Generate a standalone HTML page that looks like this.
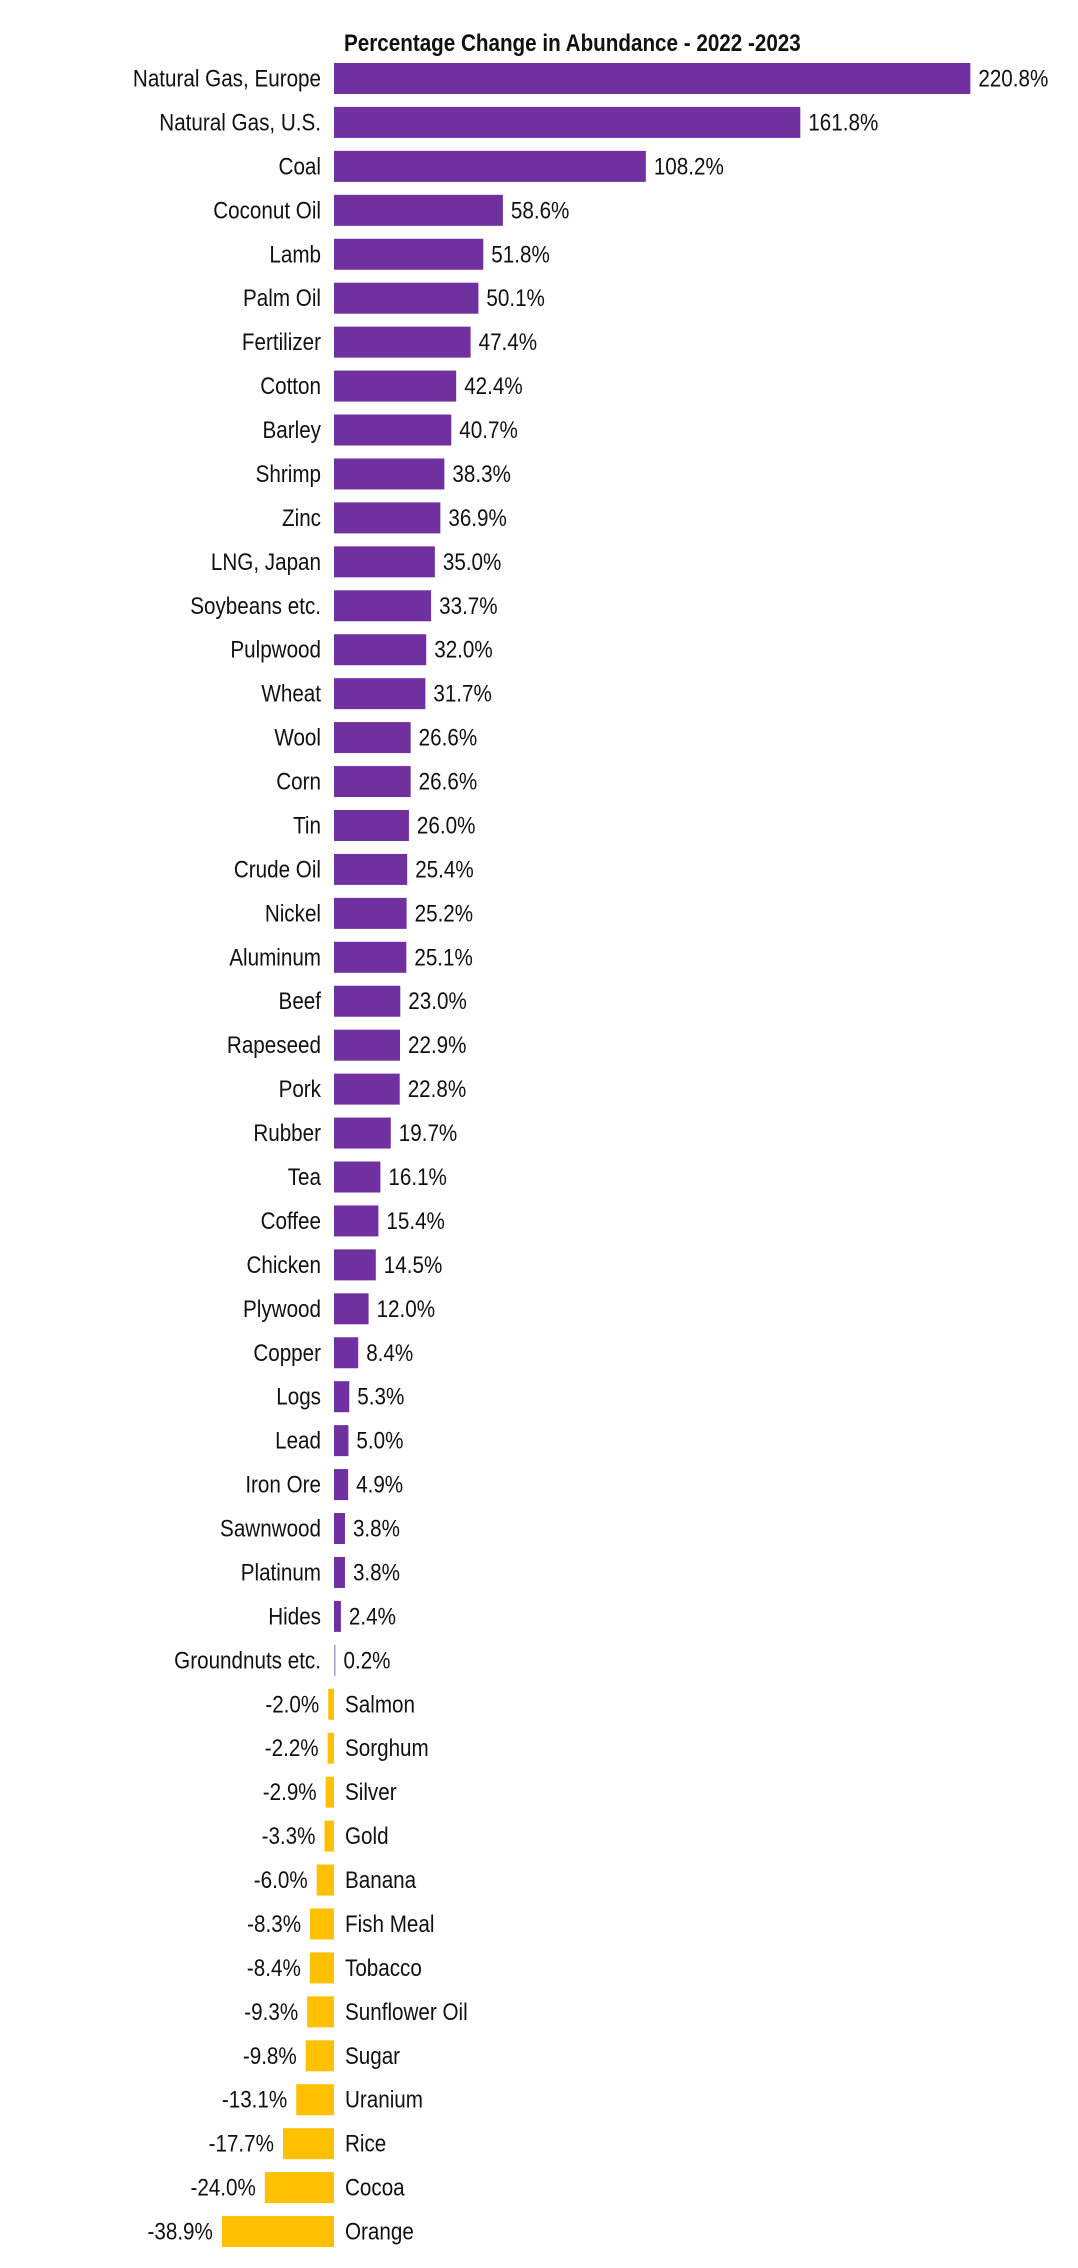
<!DOCTYPE html>
<html><head><meta charset="utf-8">
<style>
html,body{margin:0;padding:0;background:#fff;}
svg{display:block;}
text{font-family:"Liberation Sans Narrow","Liberation Sans",sans-serif;fill:#111;}
</style></head>
<body>
<svg id="chart" width="1078" height="2268" viewBox="0 0 1078 2268" xmlns="http://www.w3.org/2000/svg">
<text transform="translate(344,51) scale(0.86,1)" x="0" y="0" font-size="24" font-weight="bold">Percentage Change in Abundance - 2022 -2023</text>
<g id="bars"></g>
</svg>
<script>
const categories = ["Natural Gas, Europe","Natural Gas, U.S.","Coal","Coconut Oil","Lamb","Palm Oil","Fertilizer","Cotton","Barley","Shrimp","Zinc","LNG, Japan","Soybeans etc.","Pulpwood","Wheat","Wool","Corn","Tin","Crude Oil","Nickel","Aluminum","Beef","Rapeseed","Pork","Rubber","Tea","Coffee","Chicken","Plywood","Copper","Logs","Lead","Iron Ore","Sawnwood","Platinum","Hides","Groundnuts etc.","Salmon","Sorghum","Silver","Gold","Banana","Fish Meal","Tobacco","Sunflower Oil","Sugar","Uranium","Rice","Cocoa","Orange"];
const values = [220.8,161.8,108.2,58.6,51.8,50.1,47.4,42.4,40.7,38.3,36.9,35.0,33.7,32.0,31.7,26.6,26.6,26.0,25.4,25.2,25.1,23.0,22.9,22.8,19.7,16.1,15.4,14.5,12.0,8.4,5.3,5.0,4.9,3.8,3.8,2.4,0.2,-2.0,-2.2,-2.9,-3.3,-6.0,-8.3,-8.4,-9.3,-9.8,-13.1,-17.7,-24.0,-38.9];

const x0 = 334, pxPerUnit = 2.882;
const xScale = v => x0 + v * pxPerUnit;
const yTop = 63, pitch = 43.94, barH = 31;
const yScale = i => yTop + i * pitch;
const g = document.getElementById('bars');
const NS = 'http://www.w3.org/2000/svg';
const SX = 0.86;
categories.forEach((c, i) => {
  const v = values[i];
  const y = yScale(i);
  const xa = xScale(0), xb = xScale(v);
  const r = document.createElementNS(NS, 'rect');
  
  
  r.setAttribute('x', Math.min(xa, xb));
  r.setAttribute('y', y);
  r.setAttribute('width', Math.max(Math.abs(xb - xa), 1.5));
  r.setAttribute('height', barH);
  r.setAttribute('fill', v >= 0 ? (v < 1 ? '#a99bd0' : '#7030a0') : '#ffc000');
  g.appendChild(r);
  const cy = y + barH / 2 + 8;
  const lab = document.createElementNS(NS, 'text');
  
  
  lab.setAttribute('font-size', '24');
  const val = document.createElementNS(NS, 'text');
  
  
  val.setAttribute('font-size', '24');
  val.textContent = v.toFixed(1) + '%';
  lab.textContent = c;
  let lx, vx;
  if (v >= 0) {
    lx = xa - 13;
    lab.setAttribute('text-anchor', 'end');
    vx = Math.max(xb, xa + 1.5) + 8;
  } else {
    lx = xa + 11;
    vx = xb - 9;
    val.setAttribute('text-anchor', 'end');
  }
  lab.setAttribute('transform', 'translate(' + lx + ',' + cy + ') scale(' + SX + ',1)');
  val.setAttribute('transform', 'translate(' + vx + ',' + cy + ') scale(' + SX + ',1)');
  g.appendChild(lab);
  g.appendChild(val);
});
</script>
</body></html>
